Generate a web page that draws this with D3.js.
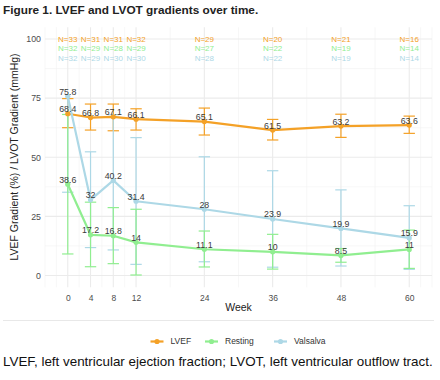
<!DOCTYPE html>
<html>
<head>
<meta charset="utf-8">
<script src="https://cdn.jsdelivr.net/npm/d3@7"></script>
<style>
  html, body { margin: 0; padding: 0; background: #fff; }
  svg { display: block; font-family: "Liberation Sans", Arial, sans-serif; }
</style>
</head>
<body>
<svg id="chart" width="440" height="380"></svg>
<script>
const weeks = [0, 4, 8, 12, 24, 36, 48, 60];

const lvefMean = [68.4, 66.8, 67.1, 66.1, 65.1, 61.5, 63.2, 63.6];
const lvefLo   = [62.5, 61.5, 61.2, 61.5, 59.4, 57.3, 58.4, 60.1];
const lvefHi   = [74.8, 72.5, 72.5, 70.5, 70.8, 66.0, 68.2, 67.4];
const lvefN    = [33, 31, 31, 32, 29, 20, 21, 16];

const restMean = [38.6, 17.2, 16.8, 14, 11.1, 10, 8.5, 11];
const restLo   = [9.1, 3.7, 5.0, 0.2, 3.6, 2.7, 5.6, 3.0];
const restHi   = [68.1, 31.0, 28.7, 28.0, 18.8, 17.4, 11.4, 19.2];
const restN    = [32, 29, 28, 29, 27, 22, 19, 14];

const valMean = [75.8, 32, 40.2, 31.4, 28, 23.9, 19.9, 15.9];
const valLo   = [35.2, 11.8, 10.8, 4.7, 5.8, 3.5, 4.0, 2.6];
const valHi   = [null, 52.3, 68.0, 58.3, 50.2, 44.3, 36.2, 29.5]; // week 0 upper bar not shown
const valN    = [32, 29, 30, 30, 28, 22, 19, 14];

const yTicks = [0, 25, 50, 75, 100];

const build = (mean, lo, hi, n) => weeks.map((w, i) => ({ week: w, mean: mean[i], lo: lo[i], hi: hi[i], n: n[i] }));

const series = [
  { name: "LVEF",     color: "#F4A127", nY: 100, data: build(lvefMean, lvefLo, lvefHi, lvefN) },
  { name: "Resting",  color: "#90EE90", nY: 96,  data: build(restMean, restLo, restHi, restN) },
  { name: "Valsalva", color: "#ADD8E6", nY: 92,  data: build(valMean, valLo, valHi, valN) }
];

const svg = d3.select("#chart");
const W = 440;

svg.append("rect").attr("width", W).attr("height", 380).attr("fill", "#fff");

const x = d3.scaleLinear().domain([-4, 64]).range([45, 432]);
const y = d3.scaleLinear().domain([-5, 105]).range([287.3, 27.2]);

// title
svg.append("text")
  .attr("x", 3).attr("y", 14)
  .attr("font-size", 11.8).attr("font-weight", "bold").attr("fill", "#222")
  .text("Figure 1. LVEF and LVOT gradients over time.");

// grid
const grid = svg.append("g");
const xMinor = [-4, -2, 2, 6, 10, 18, 30, 42, 54, 62, 64];
const yMinor = [12.5, 37.5, 62.5, 87.5];
grid.selectAll(".xminor").data(xMinor).join("line")
  .attr("x1", d => x(d)).attr("x2", d => x(d))
  .attr("y1", y.range()[1]).attr("y2", y.range()[0])
  .attr("stroke", "#f2f2f2").attr("stroke-width", 0.6);
grid.selectAll(".yminor").data(yMinor).join("line")
  .attr("y1", d => y(d)).attr("y2", d => y(d))
  .attr("x1", x.range()[0]).attr("x2", x.range()[1])
  .attr("stroke", "#f2f2f2").attr("stroke-width", 0.6);
grid.selectAll(".xmajor").data(weeks).join("line")
  .attr("x1", d => x(d)).attr("x2", d => x(d))
  .attr("y1", y.range()[1]).attr("y2", y.range()[0])
  .attr("stroke", "#ebebeb").attr("stroke-width", 1.1);
grid.selectAll(".ymajor").data(yTicks).join("line")
  .attr("y1", d => y(d)).attr("y2", d => y(d))
  .attr("x1", x.range()[0]).attr("x2", x.range()[1])
  .attr("stroke", "#ebebeb").attr("stroke-width", 1.1);

// axes (labels only)
const xAxis = svg.append("g")
  .attr("transform", `translate(0,${y.range()[0] + 4})`)
  .call(d3.axisBottom(x).tickValues(weeks).tickSize(0).tickPadding(4));
xAxis.select(".domain").remove();
xAxis.selectAll("text").attr("font-size", 8.5).attr("fill", "#4d4d4d").attr("font-family", null);

const yAxis = svg.append("g")
  .attr("transform", `translate(${x.range()[0] - 2},0)`)
  .call(d3.axisLeft(y).tickValues(yTicks).tickSize(0).tickPadding(2));
yAxis.select(".domain").remove();
yAxis.selectAll("text").attr("font-size", 8.8).attr("fill", "#4d4d4d").attr("font-family", null);

svg.append("text")
  .attr("x", 238.5).attr("y", 310.5).attr("text-anchor", "middle")
  .attr("font-size", 10.5).attr("fill", "#222").text("Week");

svg.append("text")
  .attr("transform", `translate(18,157) rotate(-90)`)
  .attr("text-anchor", "middle")
  .attr("font-size", 10.5).attr("fill", "#222")
  .text("LVEF Gradient (%) / LVOT Gradient (mmHg)");

// error bars: LVEF, then Valsalva, then Resting on top
const capHalf = 1;
const barOrder = [series[0], series[2], series[1]];
barOrder.forEach(s => {
  const g = svg.append("g").attr("stroke", s.color).attr("stroke-width", 1.2);
  s.data.forEach(d => {
    const top = d.hi == null ? d.mean : d.hi;
    g.append("line")
      .attr("x1", x(d.week)).attr("x2", x(d.week))
      .attr("y1", y(d.lo)).attr("y2", y(top));
    g.append("line")
      .attr("x1", x(d.week - capHalf)).attr("x2", x(d.week + capHalf))
      .attr("y1", y(d.lo)).attr("y2", y(d.lo));
    if (d.hi != null) {
      g.append("line")
        .attr("x1", x(d.week - capHalf)).attr("x2", x(d.week + capHalf))
        .attr("y1", y(d.hi)).attr("y2", y(d.hi));
    }
  });
});

// lines and points
const line = d3.line().x(d => x(d.week)).y(d => y(d.mean));
series.forEach(s => {
  svg.append("path")
    .datum(s.data)
    .attr("fill", "none")
    .attr("stroke", s.color)
    .attr("stroke-width", 2.2)
    .attr("stroke-linejoin", "round")
    .attr("d", line);
  svg.append("g").selectAll("circle").data(s.data).join("circle")
    .attr("cx", d => x(d.week)).attr("cy", d => y(d.mean))
    .attr("r", 2.6).attr("fill", s.color);
});

// value labels
series.forEach(s => {
  svg.append("g").selectAll("text").data(s.data).join("text")
    .attr("x", d => x(d.week)).attr("y", d => y(d.mean) - 1.5)
    .attr("text-anchor", "middle")
    .attr("font-size", 8.8).attr("fill", "#3a3a3a")
    .text(d => d3.format("")(d.mean));
});

// N labels
series.forEach(s => {
  svg.append("g").selectAll("text").data(s.data).join("text")
    .attr("x", d => x(d.week)).attr("y", y(s.nY))
    .attr("dy", "0.35em")
    .attr("text-anchor", "middle")
    .attr("font-size", 8).attr("fill", s.color)
    .text(d => "N=" + d.n);
});

// separator
svg.append("line")
  .attr("x1", 3).attr("x2", 434).attr("y1", 320.5).attr("y2", 320.5)
  .attr("stroke", "#e8e8e8").attr("stroke-width", 1);

// legend
const legendX = [150.5, 205, 274];
const legend = svg.append("g");
series.forEach((s, i) => {
  const g = legend.append("g").attr("transform", `translate(${legendX[i]},341.5)`);
  g.append("line").attr("x1", 0).attr("x2", 13).attr("stroke", s.color).attr("stroke-width", 2.2);
  g.append("circle").attr("cx", 6.5).attr("r", 2.6).attr("fill", s.color);
  g.append("text").attr("x", 20).attr("dy", "0.35em")
    .attr("font-size", 8.5).attr("fill", "#333").text(s.name);
});

// caption
svg.append("text")
  .attr("x", 3).attr("y", 366)
  .attr("font-size", 13.4).attr("fill", "#111")
  .text("LVEF, left ventricular ejection fraction; LVOT, left ventricular outflow tract.");
</script>
</body>
</html>
